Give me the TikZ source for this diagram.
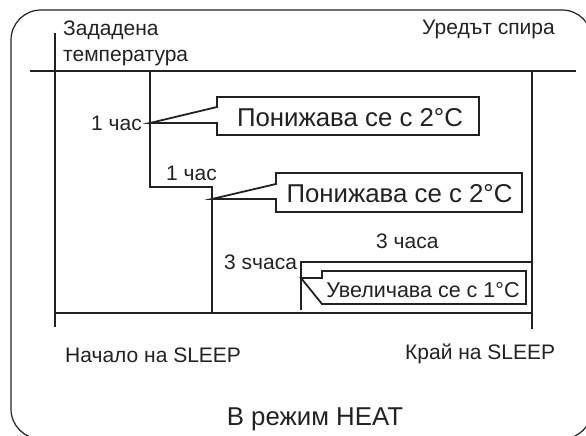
\documentclass[tikz,border=0pt]{standalone}
\usepackage{fontspec}
\setmainfont{Liberation Sans}
\definecolor{ink}{HTML}{222222}
\begin{document}
\begin{tikzpicture}[x=1pt,y=-1pt, line join=miter,
  ln/.style={line width=1.8pt, draw=ink},
  lbl/.style={font=\fontsize{21}{23}\selectfont, anchor=base west, inner sep=0pt, text=ink},
  big/.style={font=\fontsize{25.8}{28}\selectfont, anchor=base, inner sep=0pt, text=ink},
  mid/.style={font=\fontsize{21.5}{24}\selectfont, anchor=base, inner sep=0pt, text=ink},
  callout/.style={line width=1.8pt, draw=ink, fill=white}]
\useasboundingbox (0,0) rectangle (586,436);
\clip (0,0) rectangle (586,436);
\draw[line width=1.2pt, draw=ink, rounded corners=30pt] (11,10) rectangle (592,439);
% axes
\coordinate (axT) at (55,33);
\coordinate (axB) at (55,327);
\coordinate (tlL) at (30,71);
\coordinate (tlR) at (576,71);
\coordinate (blL) at (55,313);
\coordinate (blR) at (531,313);
\coordinate (rvT) at (532,71);
\coordinate (rvB) at (532,329);
\draw[ln] (axT) -- (axB);
\draw[ln] (tlL) -- (tlR);
\draw[ln] (blL) -- (blR);
\draw[ln] (rvT) -- (rvB);
% staircase
\coordinate (s1) at (150,71);
\coordinate (s2) at (150,187);
\coordinate (s3) at (212,187);
\coordinate (s4) at (212,313);
\draw[ln] (s1) -- (s2) -- (s3) -- (s4);
\coordinate (u1) at (301,310);
\coordinate (u2) at (301,262);
\coordinate (u3) at (532,262);
\draw[ln] (u1) -- (u2) -- (u3);
% callouts
\draw[callout] (217,107) -- (217,97) -- (479,97) -- (479,135) -- (217,135) -- (217,123) -- (150,123) -- cycle;
\draw[callout] (276,184) -- (276,173) -- (522,173) -- (522,212) -- (276,212) -- (276,199) -- (212,199) -- cycle;
\draw[callout] (322,278) -- (322,271) -- (526,271) -- (526,304) -- (322,304) -- (301,278) -- cycle;
\node[big] (c1) at (350,126) {Понижава се с 2°C};
\node[big] (c2) at (399.5,202) {Понижава се с 2°C};
\node[mid] (c3) at (423,297) {Увеличава се с 1°C};
% labels
\node[lbl] (zad) at (63,36) {Зададена};
\node[lbl] (temp) at (63,62) {температура};
\node[lbl] (ured) at (422,35) {Уредът спира};
\node[lbl] (h1) at (91,130) {1 час};
\node[lbl] (h2) at (166,180) {1 час};
\node[lbl] (h3) at (224,269) {3 sчаса};
\node[lbl] (h4) at (376,248) {3 часа};
\node[lbl] (start) at (65,362) {Начало на SLEEP};
\node[lbl] (end) at (405,359) {Край на SLEEP};
\node[big] (mode) at (315,425) {В режим HEAT};
\end{tikzpicture}
\end{document}
